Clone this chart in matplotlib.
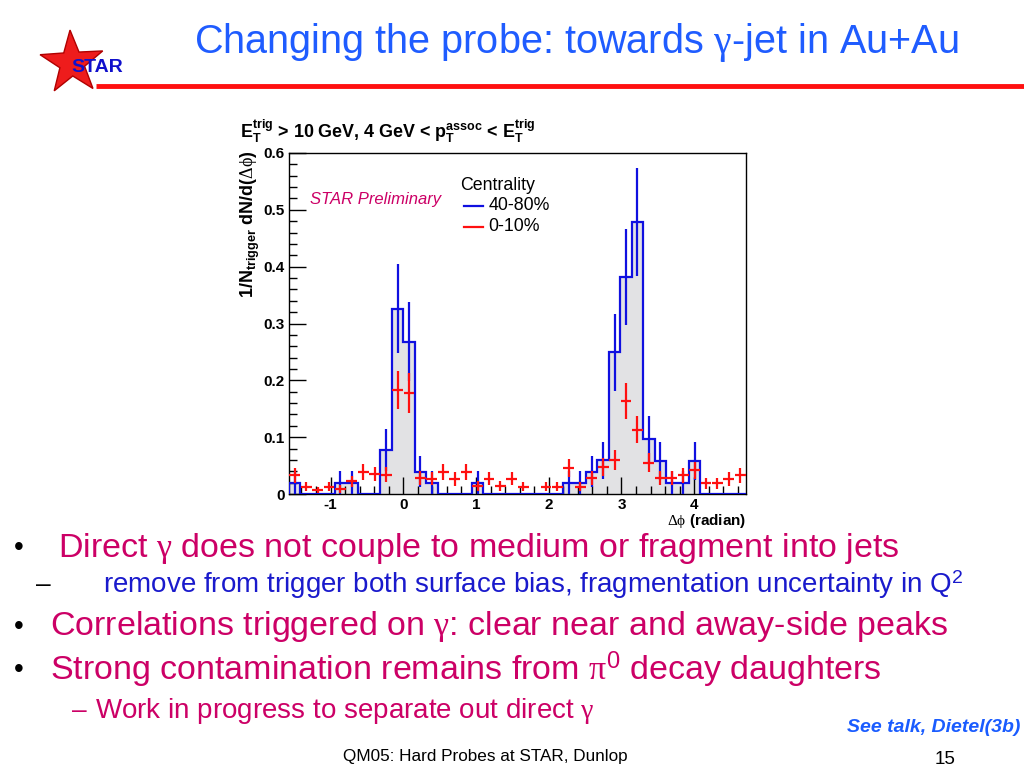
import numpy as np
import matplotlib
matplotlib.use("Agg")
import matplotlib.pyplot as plt
from matplotlib.patches import Polygon

plt.rcParams['font.family'] = ['Liberation Sans', 'DejaVu Sans']
plt.rcParams['mathtext.fontset'] = 'custom'
plt.rcParams['mathtext.rm'] = 'Liberation Serif'
plt.rcParams['mathtext.it'] = 'Liberation Serif:italic'
plt.rcParams['mathtext.bf'] = 'Liberation Sans:bold'
plt.rcParams['mathtext.sf'] = 'Liberation Sans'

# ---------------- data ----------------
n_bins = 40
x_min, x_max = -np.pi / 2, 3 * np.pi / 2

blue_40_80 = [0.02, 0, 0, 0, 0.02, 0.02, 0, 0, 0.077, 0.326,
              0.268, 0.039, 0.02, 0, 0, 0, 0.02, 0, 0, 0,
              0, 0, 0, 0, 0.02, 0.02, 0.039, 0.059, 0.249, 0.382,
              0.478, 0.096, 0.058, 0.02, 0.02, 0.058, 0, 0, 0, 0]
blue_err = [0.02, 0, 0, 0, 0.02, 0.02, 0, 0, 0.037, 0.078,
            0.07, 0.027, 0.02, 0, 0, 0, 0.02, 0, 0, 0,
            0, 0, 0, 0, 0.02, 0.02, 0.027, 0.033, 0.068, 0.085,
            0.095, 0.042, 0.033, 0.02, 0.02, 0.033, 0, 0, 0, 0]

red_0_10 = [0.033, 0.013, 0.007, 0.013, 0.008, 0.022, 0.039, 0.035, 0.034, 0.183,
            0.178, 0.028, 0.027, 0.039, 0.026, 0.039, 0.014, 0.027, 0.014, 0.027,
            0.013, 0, 0.013, 0.013, 0.046, 0.013, 0.028, 0.048, 0.060, 0.164,
            0.113, 0.055, 0.028, 0.028, 0.033, 0.042, 0.019, 0.019, 0.026, 0.033]
red_err = [0.013, 0.008, 0.006, 0.008, 0.007, 0.01, 0.014, 0.013, 0.013, 0.034,
           0.035, 0.012, 0.012, 0.014, 0.012, 0.014, 0.009, 0.012, 0.009, 0.012,
           0.008, 0, 0.008, 0.008, 0.016, 0.008, 0.012, 0.016, 0.018, 0.032,
           0.024, 0.017, 0.012, 0.012, 0.013, 0.015, 0.01, 0.01, 0.012, 0.013]

legend_labels = ["40-80%", "0-10%"]

edges = np.linspace(x_min, x_max, n_bins + 1)
centers = 0.5 * (edges[:-1] + edges[1:])
half_w = 0.5 * (edges[1] - edges[0])
blue = np.array(blue_40_80)
berr = np.array(blue_err)
red = np.array(red_0_10)
rerr = np.array(red_err)

W, H = 1024, 768
fig = plt.figure(figsize=(W / 100, H / 100), dpi=100)
fig.patch.set_facecolor('white')

# ---------------- slide decorations (pixel overlay) ----------------
ov = fig.add_axes([0, 0, 1, 1], zorder=0)
ov.set_xlim(0, W)
ov.set_ylim(H, 0)
ov.axis('off')

# STAR logo star
cx, cy, R, r = 72, 63, 33, 13
pts = []
for i in range(10):
    ang = np.pi / 2 + 0.06 + i * np.pi / 5
    rad = R if i % 2 == 0 else r
    pts.append((cx + rad * np.cos(ang), cy - rad * np.sin(ang)))
ov.add_patch(Polygon(pts, closed=True, facecolor='#ee1c1c', edgecolor='#b00000', lw=1))
ov.text(97, 67, "STAR", color='#1010cc', fontsize=14, fontweight='bold', ha='center', va='center')
ov.plot([96, 1024], [85.5, 85.5], color='#ff1010', lw=3.5, solid_capstyle='butt')

# title
ov.text(576, 43, r"Changing the probe: towards $\mathrm{\gamma}$-jet in Au+Au",
        color='#1f5cff', fontsize=28.5, ha='center', va='center')

pink = '#cc0066'
subblue = '#1a1acc'
ov.text(14, 548, "•", color='black', fontsize=20, va='center')
ov.text(58, 548, r"Direct $\mathrm{\gamma}$ does not couple to medium or fragment into jets",
        color=pink, fontsize=24.5, va='center')
ov.text(36, 585, "–", color='black', fontsize=19, va='center')
ov.text(103, 585, r"remove from trigger both surface bias, fragmentation uncertainty in Q$^{\mathsf{2}}$",
        color=subblue, fontsize=20, va='center')
ov.text(14, 627, "•", color='black', fontsize=20, va='center')
ov.text(50, 627, r"Correlations triggered on $\mathrm{\gamma}$: clear near and away-side peaks",
        color=pink, fontsize=24.5, va='center')
ov.text(14, 670, "•", color='black', fontsize=20, va='center')
ov.text(50, 670, r"Strong contamination remains from $\mathrm{\pi}^{\mathsf{0}}$ decay daughters",
        color=pink, fontsize=24.5, va='center')
ov.text(72, 711, "–", color=pink, fontsize=19, va='center')
ov.text(95, 711, r"Work in progress to separate out direct $\mathrm{\gamma}$",
        color=pink, fontsize=20, va='center')
ov.text(1020, 727, "See talk, Dietel(3b)", color='#1a5cff', fontsize=14,
        fontweight='bold', fontstyle='italic', ha='right', va='center')
ov.text(485, 756, "QM05: Hard Probes at STAR, Dunlop", color='black', fontsize=12.3,
        ha='center', va='center')
ov.text(945, 760, "15", color='black', fontsize=13.5, ha='center', va='center')

# ---------------- chart ----------------
l, rr, t, b = 289, 746, 153, 494
ax = fig.add_axes([l / W, 1 - b / H, (rr - l) / W, (b - t) / H], zorder=2)
ax.set_facecolor('white')

ax.stairs(blue, edges, fill=True, color='#e2e2e4', zorder=1)
ax.stairs(blue, edges, color='#1010e0', lw=1.6, zorder=3)
m = blue > 0
ax.errorbar(centers[m], blue[m], yerr=berr[m], fmt='none', ecolor='#1010e0',
            elinewidth=1.6, capsize=0, zorder=4)
mr = red > 0
ax.errorbar(centers[mr], red[mr], xerr=half_w * 0.95, yerr=rerr[mr], fmt='none',
            ecolor='#ff1010', elinewidth=1.6, capsize=0, zorder=5)

ax.set_xlim(x_min, x_max)
ax.set_ylim(0, 0.6)
ax.set_xticks([-1, 0, 1, 2, 3, 4])
ax.set_xticks(np.arange(-1.4, 4.7, 0.2), minor=True)
ax.set_yticks([0, 0.1, 0.2, 0.3, 0.4, 0.5, 0.6])
ax.set_yticks(np.arange(0, 0.601, 0.02), minor=True)
ax.set_xticklabels(["-1", "0", "1", "2", "3", "4"], fontweight='bold', fontsize=11)
ax.set_yticklabels(["0", "0.1", "0.2", "0.3", "0.4", "0.5", "0.6"], fontweight='bold', fontsize=11)
ax.tick_params(which='major', direction='in', length=12, width=1, top=False, right=False, pad=3)
ax.tick_params(which='minor', direction='in', length=6, width=1, top=False, right=False)
for s in ax.spines.values():
    s.set_linewidth(1)

# legend and labels (axes coords)
ax.text(0.374, 0.905, "Centrality", transform=ax.transAxes, fontsize=12.8, va='center')
ax.plot([0.382, 0.424], [0.845, 0.845], transform=ax.transAxes, color='#1010e0', lw=1.6)
ax.text(0.437, 0.845, legend_labels[0], transform=ax.transAxes, fontsize=12.8, va='center')
ax.plot([0.382, 0.424], [0.783, 0.783], transform=ax.transAxes, color='#ff1010', lw=1.6)
ax.text(0.437, 0.783, legend_labels[1], transform=ax.transAxes, fontsize=12.8, va='center')
ax.text(0.045, 0.865, "STAR Preliminary", transform=ax.transAxes, fontsize=12,
        fontstyle='italic', color=pink, va='center')

fig.text(240 / W, 1 - 131 / H,
         r"$\mathbf{E_T^{trig}}$ > 10 GeV, 4 GeV < $\mathbf{p_T^{assoc}}$ < $\mathbf{E_T^{trig}}$",
         fontsize=12.9, fontweight='bold', va='center', ha='left')
fig.text(250 / W, 1 - 150 / H,
         r"$\mathbf{1/N_{trigger}}$ $\mathbf{dN/d(}\mathrm{\Delta\phi}\mathbf{)}$",
         rotation=90, fontsize=13, fontweight='bold', va='top', ha='center')
fig.text(746 / W, 1 - 521.5 / H, r"$\mathrm{\Delta\phi}$ (radian)", fontsize=11,
         fontweight='bold', ha='right', va='center')

fig.savefig("out.png", dpi=100, facecolor='white')
